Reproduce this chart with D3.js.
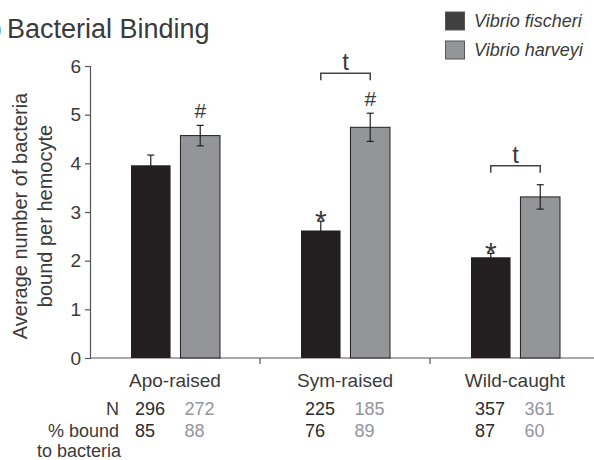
<!DOCTYPE html>
<html>
<head>
<meta charset="utf-8">
<script src="https://cdn.jsdelivr.net/npm/d3@7"></script>
<style>
  body { margin: 0; background: #fff; }
  svg { display: block; font-family: "Liberation Sans", Arial, sans-serif; }
</style>
</head>
<body>
<svg width="594" height="460"></svg>
<script>
// data
var categories = ["Apo-raised", "Sym-raised", "Wild-caught"];
var seriesNames = ["Vibrio fischeri", "Vibrio harveyi"];
var fischeri = [3.96, 2.62, 2.07];
var fischeriErr = [0.21, 0.19, 0.08];
var harveyi = [4.57, 4.74, 3.31];
var harveyiErr = [0.21, 0.29, 0.25];
var fischeriN = [296, 225, 357];
var harveyiN = [272, 185, 361];
var fischeriBound = [85, 76, 87];
var harveyiBound = [88, 89, 60];
var starMark = [false, true, true];   // * over V. fischeri
var hashMark = [true, true, false];   // # over V. harveyi
var tBracket = [null, 5.85, 3.95];    // level of the "t" bracket
var yTicks = [0, 1, 2, 3, 4, 5, 6];

var colors = ["#231f20", "#939598"];
var textDark = "#3a3a3a";

var svg = d3.select("svg");

var x = d3.scaleBand().domain(categories).range([90, 600]).padding(0);
var inner = d3.scaleBand().domain(seriesNames).range([-44, 45]).paddingInner(0.2);
var y = d3.scaleLinear().domain([0, 6]).range([358, 66]);

// title (panel letter is cut off at the left edge)
svg.append("text").attr("x", 1.5).attr("y", 37.5).attr("text-anchor", "end")
    .attr("font-size", 27).attr("fill", textDark).text("b");
svg.append("text").attr("x", 7).attr("y", 37.5)
    .attr("font-size", 27).attr("fill", textDark).text("Bacterial Binding");

// legend
var legend = svg.append("g");
seriesNames.forEach(function (name, i) {
    legend.append("rect")
        .attr("x", 445.5).attr("y", 12 + i * 29)
        .attr("width", 19).attr("height", 18)
        .attr("fill", i == 0 ? "#404041" : colors[1])
        .attr("stroke", "#555").attr("stroke-width", 1);
    legend.append("text")
        .attr("x", 474).attr("y", 27 + i * 29)
        .attr("font-size", 18).attr("font-style", "italic")
        .attr("fill", textDark).text(name);
});

// y axis
var yAxis = svg.append("g").attr("transform", "translate(90,0)")
    .call(d3.axisLeft(y).tickValues(yTicks).tickSize(5).tickPadding(4).tickFormat(d3.format("d")));
yAxis.select(".domain").attr("stroke", "#555").attr("stroke-width", 1.2);
yAxis.selectAll(".tick line").attr("stroke", "#555").attr("stroke-width", 1.2);
yAxis.selectAll(".tick text").attr("font-size", 19).attr("fill", textDark)
    .attr("font-family", "Liberation Sans, Arial, sans-serif");

// y label
var ylab = svg.append("text")
    .attr("transform", "translate(20,216) rotate(-90)")
    .attr("text-anchor", "middle").attr("font-size", 20).attr("fill", textDark);
ylab.append("tspan").attr("x", 0).attr("dy", "0.35em").text("Average number of bacteria");
ylab.append("tspan").attr("x", 0).attr("dy", 25).text("bound per hemocyte");

// x axis
svg.append("line").attr("x1", 90).attr("x2", 600).attr("y1", y(0)).attr("y2", y(0))
    .attr("stroke", "#555").attr("stroke-width", 1.2);
categories.slice(1).forEach(function (c) {
    svg.append("line").attr("x1", x(c)).attr("x2", x(c))
        .attr("y1", y(0)).attr("y2", y(0) + 6)
        .attr("stroke", "#555").attr("stroke-width", 1.2);
});

// bars
var values = [fischeri, harveyi];
var errs = [fischeriErr, harveyiErr];
seriesNames.forEach(function (name, s) {
    var g = svg.append("g");
    categories.forEach(function (c, i) {
        var cx = x(c) + x.bandwidth() / 2 + inner(name);
        var v = values[s][i];
        g.append("rect")
            .attr("x", cx).attr("y", y(v))
            .attr("width", inner.bandwidth()).attr("height", y(0) - y(v))
            .attr("fill", colors[s])
            .attr("stroke", "#231f20").attr("stroke-width", s == 1 ? 1 : 0);
        var mx = cx + inner.bandwidth() / 2;
        var top = y(v + errs[s][i]), bot = y(v - errs[s][i]);
        g.append("line").attr("x1", mx).attr("x2", mx).attr("y1", top).attr("y2", bot)
            .attr("stroke", "#231f20").attr("stroke-width", 1.2);
        [top, bot].forEach(function (yy) {
            g.append("line").attr("x1", mx - 3.5).attr("x2", mx + 3.5).attr("y1", yy).attr("y2", yy)
                .attr("stroke", "#231f20").attr("stroke-width", 1.2);
        });
        if (s == 0 && starMark[i]) {
            g.append("text").attr("x", mx).attr("y", top + 10).attr("text-anchor", "middle")
                .attr("font-size", 30).attr("fill", textDark).text("*");
        }
        if (s == 1 && hashMark[i]) {
            g.append("text").attr("x", mx).attr("y", top - 7.5).attr("text-anchor", "middle")
                .attr("font-size", 21).attr("fill", textDark).text("#");
        }
    });
});

// t brackets
categories.forEach(function (c, i) {
    if (tBracket[i] == null) return;
    var x1 = x(c) + x.bandwidth() / 2 + inner(seriesNames[0]) + inner.bandwidth() / 2;
    var x2 = x(c) + x.bandwidth() / 2 + inner(seriesNames[1]) + inner.bandwidth() / 2;
    var yy = y(tBracket[i]);
    svg.append("path")
        .attr("d", "M" + x1 + "," + (yy + 7) + "V" + yy + "H" + x2 + "V" + (yy + 7))
        .attr("fill", "none").attr("stroke", "#444").attr("stroke-width", 1.5);
    svg.append("text").attr("x", (x1 + x2) / 2).attr("y", yy - 3).attr("text-anchor", "middle")
        .attr("font-size", 24).attr("fill", textDark).text("t");
});

// category labels
categories.forEach(function (c) {
    svg.append("text").attr("x", x(c) + x.bandwidth() / 2).attr("y", 387)
        .attr("text-anchor", "middle").attr("font-size", 19).attr("fill", textDark).text(c);
});

// N and % bound rows
svg.append("text").attr("x", 119).attr("y", 415).attr("text-anchor", "end")
    .attr("font-size", 18).attr("fill", textDark).text("N");
svg.append("text").attr("x", 119).attr("y", 437).attr("text-anchor", "end")
    .attr("font-size", 18).attr("fill", textDark).text("% bound");
svg.append("text").attr("x", 121).attr("y", 457).attr("text-anchor", "end")
    .attr("font-size", 18).attr("fill", textDark).text("to bacteria");

var rows = [[fischeriN, harveyiN], [fischeriBound, harveyiBound]];
rows.forEach(function (row, r) {
    seriesNames.forEach(function (name, s) {
        categories.forEach(function (c, i) {
            svg.append("text")
                .attr("x", x(c) + x.bandwidth() / 2 + inner(name) + 4)
                .attr("y", 415 + r * 22)
                .attr("font-size", 18)
                .attr("fill", s == 0 ? "#2b2b2b" : "#939598")
                .text(row[s][i]);
        });
    });
});
</script>
</body>
</html>
